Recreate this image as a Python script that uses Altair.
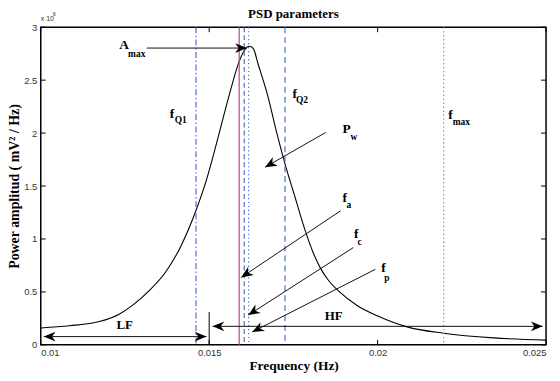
import math
import altair as alt
import pandas as pd

# ---------------- data ----------------
W, H = 509, 320
X_DOMAIN = [0.01, 0.025]
Y_DOMAIN = [0, 3]

# PSD curve (power in units of 10^6 mV^2/Hz)
freq = [0.01, 0.010855, 0.011739, 0.012328, 0.012711, 0.013212, 0.013713, 0.014155,
        0.014597, 0.014921, 0.015216, 0.01557, 0.015894, 0.016041, 0.016189, 0.016306,
        0.016454, 0.016749, 0.016984, 0.01725, 0.017544, 0.017839, 0.018075, 0.01831,
        0.018517, 0.01887, 0.019401, 0.01999, 0.020874, 0.021965, 0.023438, 0.025]
power = [0.16, 0.18, 0.22, 0.29, 0.37, 0.51, 0.69, 0.93,
         1.26, 1.56, 1.90, 2.33, 2.68, 2.78, 2.82, 2.80,
         2.65, 2.34, 2.03, 1.71, 1.40, 1.09, 0.88, 0.72,
         0.62, 0.50, 0.37, 0.275, 0.17, 0.11, 0.066, 0.045]

# vertical marker lines: fQ1, fa, fc, fp, fQ2, fmax
vline_freq = [0.01461, 0.01589, 0.01604, 0.01617, 0.01725, 0.02196]
vline_color = ["#4f6fc6", "#b94394", "#4f6fc6", "#4f6fc6", "#4f6fc6", "#dc5cc0"]
vline_dash = [[6, 2.5, 1.5, 2.5], [1, 0], [5, 3], [1.2, 2.8], [6, 4], [1.3, 2.7]]

# axis ticks
x_ticks = [0.01, 0.015, 0.02, 0.025]
y_ticks = [0, 0.5, 1, 1.5, 2, 2.5, 3]

# annotation labels (main letter + subscript)
lab_text = ["A", "f", "f", "f", "P", "f", "f", "f"]
lab_f = [0.01233, 0.01383, 0.01747, 0.02210, 0.01896, 0.01896, 0.01930, 0.02011]
lab_v = [2.794, 2.147, 2.334, 2.1375, 1.997, 1.35, 1.0125, 0.684]
sub_text = ["max", "Q1", "Q2", "max", "w", "a", "c", "p"]
sub_f = [0.012593, 0.013978, 0.017574, 0.02223, 0.019194, 0.019077, 0.01940, 0.0202]
sub_v = [2.719, 2.10, 2.2875, 2.081, 1.931, 1.294, 0.947, 0.60]

band_text = ["LF", "HF"]
band_f = [0.01249, 0.018693]
band_v = [0.15, 0.234]

# arrows: start -> end, double-headed flag
arr_f0 = [0.01315, 0.01846, 0.01890, 0.01928, 0.01993, 0.01009, 0.01510]
arr_v0 = [2.803, 2.006, 1.266, 0.919, 0.713, 0.078, 0.175]
arr_f1 = [0.01612, 0.01666, 0.01595, 0.01616, 0.01628, 0.01492, 0.02490]
arr_v1 = [2.803, 1.678, 0.637, 0.281, 0.122, 0.078, 0.175]
arr_double = [False, False, False, False, False, True, True]

# LF/HF separator
sep_f = [0.015]
sep_v0 = [0.0]
sep_v1 = [0.31]

# ---------------- tables ----------------
curve_df = pd.DataFrame({"freq": freq, "power": power})
vline_df = pd.DataFrame({"freq": vline_freq, "color": vline_color, "dash": vline_dash})
lab_df = pd.DataFrame({"t": lab_text, "f": lab_f, "v": lab_v})
sub_df = pd.DataFrame({"t": sub_text, "f": sub_f, "v": sub_v})
band_df = pd.DataFrame({"t": band_text, "f": band_f, "v": band_v})
seg_df = pd.DataFrame({"f0": arr_f0, "v0": arr_v0, "f1": arr_f1, "v1": arr_v1})
sep_df = pd.DataFrame({"f": sep_f, "v0": sep_v0, "v1": sep_v1})

sx = W / (X_DOMAIN[1] - X_DOMAIN[0])
sy = H / (Y_DOMAIN[1] - Y_DOMAIN[0])


def head_angle(fa, va, fb, vb):
    dx = (fb - fa) * sx
    dy = -(vb - va) * sy
    return math.degrees(math.atan2(dy, dx)) % 360


heads = []
for f0, v0, f1, v1, dbl in zip(arr_f0, arr_v0, arr_f1, arr_v1, arr_double):
    heads.append({"f": f1, "v": v1, "ang": head_angle(f0, v0, f1, v1)})
    if dbl:
        heads.append({"f": f0, "v": v0, "ang": head_angle(f1, v1, f0, v0)})
head_df = pd.DataFrame(heads)

xs = alt.Scale(domain=X_DOMAIN, nice=False, zero=False)
ys = alt.Scale(domain=Y_DOMAIN, nice=False, zero=False)

SERIF = "Liberation Serif"
SANS = "Liberation Sans"

x_axis = alt.Axis(values=x_ticks, format="~g", labelFont=SANS, labelFontSize=9.5,
                  labelColor="#333", ticks=False, domain=False, grid=False,
                  labelPadding=3, title="Frequency (Hz)", titleFont=SERIF,
                  titleFontSize=13.5, titleFontWeight="bold", titleX=254.7, titleY=25,
                  titleBaseline="alphabetic", titleAlign="center", titleColor="#000")
y_axis = alt.Axis(values=y_ticks, format="~g", labelFont=SANS, labelFontSize=9.5,
                  labelColor="#333", ticks=False, domain=False, grid=False,
                  labelPadding=4, title="Power amplitud ( mV\u00b2 / Hz)", titleFont=SERIF,
                  titleFontSize=14, titleFontWeight="bold", titleX=-22, titleY=160,
                  titleAngle=270, titleBaseline="alphabetic", titleAlign="center",
                  titleColor="#000")


def X(field):
    return alt.X(field, scale=xs, axis=x_axis)


def Y(field):
    return alt.Y(field, scale=ys, axis=y_axis)


vlines = alt.Chart(vline_df).mark_rule(strokeWidth=1.2).encode(
    x=X("freq:Q"),
    color=alt.Color("color:N", scale=None),
    strokeDash=alt.StrokeDash("dash", scale=None),
)

curve = alt.Chart(curve_df).mark_line(color="#000", strokeWidth=1.1,
                                      interpolate="monotone").encode(
    x=X("freq:Q"), y=Y("power:Q"),
)

segs = alt.Chart(seg_df).mark_rule(color="#111", strokeWidth=1).encode(
    x=X("f0:Q"), y=Y("v0:Q"), x2="f1:Q", y2="v1:Q",
)

sep = alt.Chart(sep_df).mark_rule(color="#000", strokeWidth=1).encode(
    x=X("f:Q"), y=Y("v0:Q"), y2="v1:Q",
)

ARROW = "M0,0L-1,-0.42L-0.7,0L-1,0.42Z"
arrowheads = alt.Chart(head_df).mark_point(shape=ARROW, filled=True, color="#000",
                                           size=560, opacity=1, strokeWidth=0).encode(
    x=X("f:Q"), y=Y("v:Q"), angle=alt.Angle("ang:Q", scale=None),
)

labels = alt.Chart(lab_df).mark_text(font=SERIF, fontWeight="bold", fontSize=13.5,
                                     align="left", baseline="alphabetic",
                                     color="#000").encode(
    x=X("f:Q"), y=Y("v:Q"), text="t:N",
)
subs = alt.Chart(sub_df).mark_text(font=SERIF, fontWeight="bold", fontSize=9.5,
                                   align="left", baseline="alphabetic",
                                   color="#000").encode(
    x=X("f:Q"), y=Y("v:Q"), text="t:N",
)
bands = alt.Chart(band_df).mark_text(font=SERIF, fontWeight="bold", fontSize=13,
                                     align="center", baseline="alphabetic",
                                     color="#000").encode(
    x=X("f:Q"), y=Y("v:Q"), text="t:N",
)

# inward ticks on all four sides
xt_df = pd.DataFrame({"t": x_ticks})
yt_df = pd.DataFrame({"t": y_ticks})
TL = 5
tick_bottom = alt.Chart(xt_df).mark_rule(color="#000", strokeWidth=1).encode(
    x=X("t:Q"), y=alt.value(H), y2=alt.value(H - TL))
tick_top = alt.Chart(xt_df).mark_rule(color="#000", strokeWidth=1).encode(
    x=X("t:Q"), y=alt.value(0), y2=alt.value(TL))
tick_left = alt.Chart(yt_df).mark_rule(color="#000", strokeWidth=1).encode(
    y=Y("t:Q"), x=alt.value(0), x2=alt.value(TL))
tick_right = alt.Chart(yt_df).mark_rule(color="#000", strokeWidth=1).encode(
    y=Y("t:Q"), x=alt.value(W - TL), x2=alt.value(W))

title_df = pd.DataFrame({"t": ["PSD parameters"]})
title = alt.Chart(title_df).mark_text(font=SERIF, fontWeight="bold", fontSize=13,
                                      align="center", baseline="alphabetic",
                                      color="#000").encode(
    x=alt.value(W / 2), y=alt.value(-9), text="t:N")

exp_df = pd.DataFrame({"t": ["x 10"]})
exp_base = alt.Chart(exp_df).mark_text(font=SANS, fontSize=7, align="left",
                                       baseline="alphabetic", color="#333").encode(
    x=alt.value(0), y=alt.value(-6), text="t:N")
exp_sup_df = pd.DataFrame({"t": ["6"]})
exp_sup = alt.Chart(exp_sup_df).mark_text(font=SANS, fontSize=5.5, align="left",
                                          baseline="alphabetic", color="#333").encode(
    x=alt.value(12), y=alt.value(-11), text="t:N")

chart = alt.layer(
    curve, vlines, segs, sep, arrowheads, labels, subs, bands,
    tick_bottom, tick_top, tick_left, tick_right, title, exp_base, exp_sup,
).properties(
    width=W, height=H,
    autosize=alt.AutoSizeParams(type="none"),
    padding={"left": 33, "top": 18, "right": 6, "bottom": 27},
    background="white",
).configure_view(stroke="#000", strokeWidth=1.5)

chart.save("out.html", embed_options={"renderer": "svg", "actions": False})
